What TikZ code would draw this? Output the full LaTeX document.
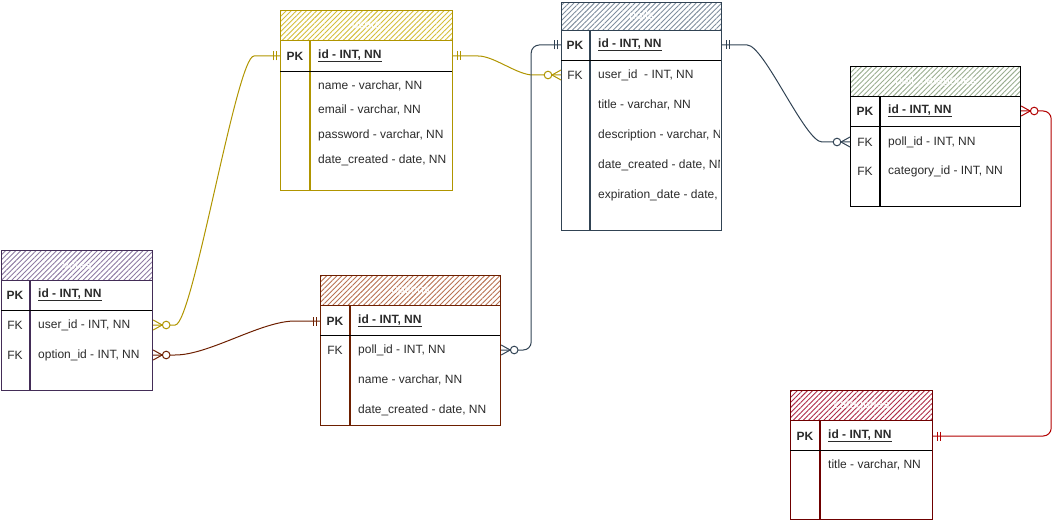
\documentclass[tikz,border=0pt]{standalone}
\usepackage{fontspec}
\setmainfont{Liberation Sans}
\usepackage{xcolor}
\usetikzlibrary{patterns.meta, calc}
\definecolor{userline}{HTML}{B09500}
\definecolor{userhatch}{HTML}{D4BE3A}
\definecolor{pollline}{HTML}{314354}
\definecolor{pollhatch}{HTML}{7F8E9E}
\definecolor{pcline}{HTML}{000000}
\definecolor{pchatch}{HTML}{9AAE90}
\definecolor{voteline}{HTML}{432D57}
\definecolor{votehatch}{HTML}{8E7BA3}
\definecolor{optline}{HTML}{6D1F00}
\definecolor{opthatch}{HTML}{B87252}
\definecolor{catline}{HTML}{6F0000}
\definecolor{cathatch}{HTML}{AE2C48}
\definecolor{relred}{HTML}{B20000}
\definecolor{fieldtext}{HTML}{2B2B2B}
\newcommand\tablefont{\fontsize{12}{14}\selectfont}
\newcommand\pkfield[1]{\textbf{\underline{#1}}}

\begin{document}
\begin{tikzpicture}[x=1pt, y=-1pt,
    hdr/.style={draw, line width=1.2pt, pattern={Lines[angle=45,distance=3.6pt,line width=0.9pt]}, pattern color=#1,
      minimum height=30pt, inner sep=0pt, anchor=north west, text=white, font=\tablefont},
    tbody/.style={draw, fill=white, line width=1.2pt, inner sep=0pt, anchor=north west},
    divider/.style={line width=1.1pt},
    pkline/.style={black, line width=0.9pt},
    key/.style={font=\tablefont, text=fieldtext, inner sep=0pt},
    pk/.style={key, font=\tablefont\bfseries},
    fld/.style={font=\tablefont, text=fieldtext, anchor=west, inner sep=0pt},
    conn/.style={line width=1pt},
    mone/.pic={\draw[line width=1pt] (4,-4.5) -- (4,4.5) (7,-4.5) -- (7,4.5);},
    zmany/.pic={\draw[line width=1pt] (0,-5) -- (9,0) -- (0,5);
      \draw[line width=1pt, fill=white] (13,0) circle[radius=3.8pt];}
  ]
    \useasboundingbox (0,0) rectangle (1060,521);

    % users
    \node[hdr=userhatch, draw=userline, minimum width=172pt] (users) at (280,10) {users};
    \node[tbody, draw=userline, minimum width=172pt, minimum height=150pt] (users-body) at (280,40) {};
    \draw[divider, userline] (310,40) -- (310,190);
    \draw[pkline] (280,71) -- (452,71);
    \node[pk] (u-pk) at (295,56) {PK};
    \node[fld] (u-id) at (318,56) {\pkfield{id - INT, NN}};
    \node[fld] (u-name) at (318,86) {name - varchar, NN};
    \node[fld] (u-email) at (318,110) {email - varchar, NN};
    \node[fld] (u-pass) at (318,135) {password - varchar, NN};
    \node[fld] (u-date) at (318,160) {date\_created - date, NN};

    % polls
    \node[hdr=pollhatch, draw=pollline, minimum width=160pt, minimum height=28pt] (polls) at (561,2) {polls};
    \node[tbody, draw=pollline, minimum width=160pt, minimum height=200pt] (polls-body) at (561,30) {};
    \draw[divider, pollline] (590,30) -- (590,230);
    \draw[pkline] (561,60) -- (721,60);
    \node[pk] (p-pk) at (575,45) {PK};
    \node[key] (p-fk) at (575,75) {FK};
    \begin{scope}
      \clip (561,30) rectangle (719,230);
      \node[fld] (p-id) at (598,45) {\pkfield{id - INT, NN}};
      \node[fld] (p-uid) at (598,75) {user\_id~ - INT, NN};
      \node[fld] (p-title) at (598,105) {title - varchar, NN};
      \node[fld] (p-desc) at (598,135) {description - varchar, NN};
      \node[fld] (p-date) at (598,165) {date\_created - date, NN};
      \node[fld] (p-exp) at (598,195) {expiration\_date - date, NN};
    \end{scope}

    % poll_categories
    \node[hdr=pchatch, draw=pcline, minimum width=170pt] (pc) at (850,66) {poll\_categories};
    \node[tbody, draw=pcline, minimum width=170pt, minimum height=110pt] (pc-body) at (850,96) {};
    \draw[divider, pcline] (880,96) -- (880,206);
    \draw[pkline] (850,126) -- (1020,126);
    \node[pk] (pc-pk) at (865,111) {PK};
    \node[fld] (pc-id) at (888,111) {\pkfield{id - INT, NN}};
    \node[key] (pc-fk1) at (865,142) {FK};
    \node[fld] (pc-pid) at (888,142) {poll\_id - INT, NN};
    \node[key] (pc-fk2) at (865,171) {FK};
    \node[fld] (pc-cid) at (888,171) {category\_id - INT, NN};

    % votes
    \node[hdr=votehatch, draw=voteline, minimum width=151pt] (votes) at (1,250) {votes};
    \node[tbody, draw=voteline, minimum width=151pt, minimum height=110pt] (votes-body) at (1,280) {};
    \draw[divider, voteline] (30,280) -- (30,390);
    \draw[pkline] (1,310) -- (152,310);
    \node[pk] (v-pk) at (15,295) {PK};
    \node[fld] (v-id) at (38,295) {\pkfield{id - INT, NN}};
    \node[key] (v-fk1) at (15,325) {FK};
    \node[fld] (v-uid) at (38,325) {user\_id - INT, NN};
    \node[key] (v-fk2) at (15,355) {FK};
    \node[fld] (v-oid) at (38,355) {option\_id - INT, NN};

    % options
    \node[hdr=opthatch, draw=optline, minimum width=180pt] (options) at (320,275) {options};
    \node[tbody, draw=optline, minimum width=180pt, minimum height=120pt] (options-body) at (320,305) {};
    \draw[divider, optline] (350,305) -- (350,425);
    \draw[pkline] (320,335) -- (500,335);
    \node[pk] (o-pk) at (335,321) {PK};
    \node[fld] (o-id) at (358,321) {\pkfield{id - INT, NN}};
    \node[key] (o-fk) at (335,350) {FK};
    \node[fld] (o-pid) at (358,350) {poll\_id - INT, NN};
    \node[fld] (o-name) at (358,380) {name - varchar, NN};
    \node[fld] (o-date) at (358,410) {date\_created - date, NN};

    % categories
    \node[hdr=cathatch, draw=catline, minimum width=142pt] (cat) at (790,390) {categories};
    \node[tbody, draw=catline, minimum width=142pt, minimum height=99pt] (cat-body) at (790,420) {};
    \draw[divider, catline] (820,420) -- (820,519);
    \draw[pkline] (790,450) -- (932,450);
    \node[pk] (c-pk) at (805,436) {PK};
    \node[fld] (c-id) at (828,436) {\pkfield{id - INT, NN}};
    \node[fld] (c-title) at (828,465) {title - varchar, NN};

    % connector ends
    \coordinate (u-id-e) at (users-body.east |- u-id);
    \coordinate (u-id-w) at (users-body.west |- u-id);
    \coordinate (p-uid-w) at (polls-body.west |- p-uid);
    \coordinate (p-id-w) at (polls-body.west |- p-id);
    \coordinate (p-id-e) at (polls-body.east |- p-id);
    \coordinate (pc-id-e) at (pc-body.east |- pc-id);
    \coordinate (pc-pid-w) at (pc-body.west |- pc-pid);
    \coordinate (v-uid-e) at (votes-body.east |- v-uid);
    \coordinate (v-oid-e) at (votes-body.east |- v-oid);
    \coordinate (o-id-w) at (options-body.west |- o-id);
    \coordinate (o-pid-e) at (options-body.east |- o-pid);
    \coordinate (c-id-e) at (cat-body.east |- c-id);

    % relations
    \draw[conn, userline] (u-id-e) -- ([xshift=25pt]u-id-e) to[out=0,in=180,looseness=0.7] ([xshift=-28pt]p-uid-w) -- (p-uid-w);
    \draw[conn, userline] (v-uid-e) -- ([xshift=22pt]v-uid-e) to[out=0,in=180,looseness=0.16] ([xshift=-26pt]u-id-w) -- (u-id-w);
    \draw[conn, optline] (v-oid-e) -- ([xshift=22pt]v-oid-e) to[out=0,in=180,looseness=0.7] ([xshift=-25pt]o-id-w) -- (o-id-w);
    \draw[conn, pollline, rounded corners=8pt] (o-pid-e) -- ([xshift=30pt]o-pid-e) |- (p-id-w);
    \draw[conn, pollline] (p-id-e) -- ([xshift=25pt]p-id-e) to[out=0,in=180,looseness=0.35] ([xshift=-28pt]pc-pid-w) -- (pc-pid-w);
    \draw[conn, relred, rounded corners=8pt] (c-id-e) -| ([xshift=30pt]pc-id-e) -- (pc-id-e);

    \pic[color=userline] at (u-id-e) {mone};
    \pic[color=userline, rotate=180] at (u-id-w) {mone};
    \pic[color=userline, rotate=180] at (p-uid-w) {zmany};
    \pic[color=userline] at (v-uid-e) {zmany};
    \pic[color=optline] at (v-oid-e) {zmany};
    \pic[color=optline, rotate=180] at (o-id-w) {mone};
    \pic[color=pollline] at (o-pid-e) {zmany};
    \pic[color=pollline, rotate=180] at (p-id-w) {mone};
    \pic[color=pollline] at (p-id-e) {mone};
    \pic[color=pollline, rotate=180] at (pc-pid-w) {zmany};
    \pic[color=relred] at (c-id-e) {mone};
    \pic[color=relred] at (pc-id-e) {zmany};
  \end{tikzpicture}
\end{document}
